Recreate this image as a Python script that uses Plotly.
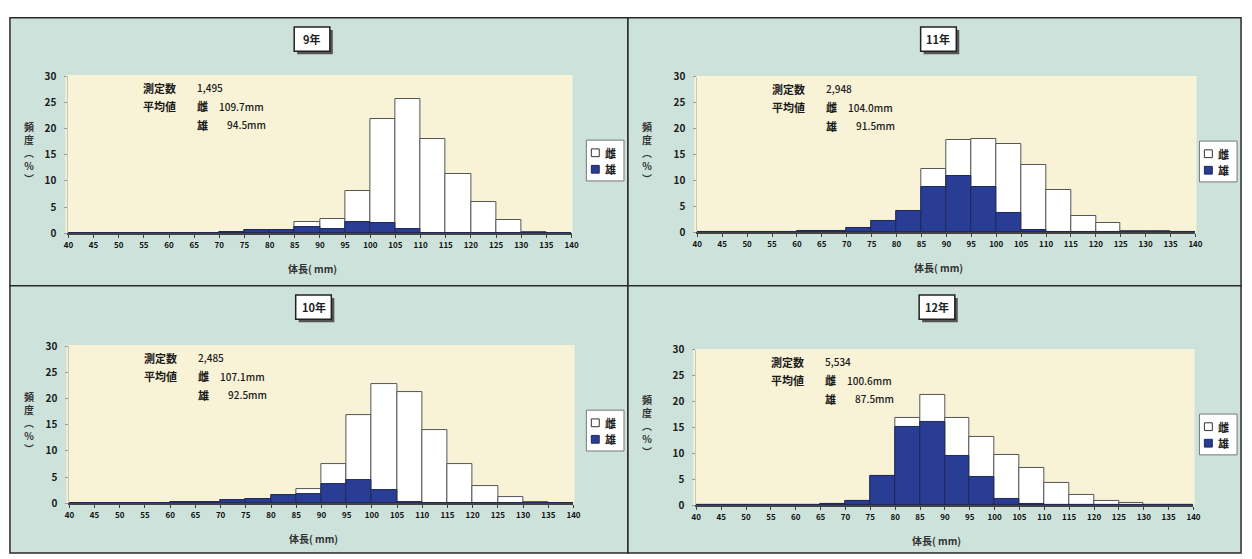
import plotly.graph_objects as go

W, H = 1252, 559

# ---------------- data ----------------
bin_left = list(range(40, 140, 5))           # 20 bins of 5 mm
bin_centers = [b + 2.5 for b in bin_left]
x_ticks = list(range(40, 145, 5))
y_ticks = [0, 5, 10, 15, 20, 25, 30]

panel_titles = ["9年", "11年", "10年", "12年"]
sample_counts = ["1,495", "2,948", "2,485", "5,534"]
mean_female = ["109.7mm", "104.0mm", "107.1mm", "100.6mm"]
mean_male = ["94.5mm", "91.5mm", "92.5mm", "87.5mm"]

# total frequency (%) per bin (white bar = 雌 stacked above 雄)
total_9 = [0, 0, 0, 0, 0, 0, 0.3, 0.7, 0.7, 2.1, 2.7, 8.1, 21.8, 25.7, 17.9, 11.4, 5.9, 2.5, 0.3, 0]
male_9 = [0, 0, 0, 0, 0, 0, 0.3, 0.7, 0.7, 1.2, 0.9, 2.2, 1.9, 0.9, 0, 0, 0, 0, 0, 0]

total_11 = [0, 0, 0, 0, 0.2, 0.2, 0.8, 2.2, 4.1, 12.2, 17.9, 18.1, 17.0, 13.1, 8.2, 3.1, 1.8, 0.3, 0.2, 0]
male_11 = [0, 0, 0, 0, 0.2, 0.2, 0.8, 2.2, 4.1, 8.8, 10.8, 8.8, 3.8, 0.5, 0, 0, 0, 0, 0, 0]

total_10 = [0, 0, 0, 0, 0.2, 0.2, 0.6, 0.8, 1.6, 2.7, 7.5, 16.8, 22.8, 21.3, 14.0, 7.6, 3.3, 1.2, 0.3, 0]
male_10 = [0, 0, 0, 0, 0.2, 0.2, 0.6, 0.8, 1.6, 1.8, 3.7, 4.5, 2.6, 0.3, 0, 0, 0, 0, 0, 0]

total_12 = [0, 0, 0, 0, 0, 0.3, 0.8, 5.7, 16.8, 21.3, 16.8, 13.3, 9.8, 7.3, 4.3, 2.0, 0.9, 0.4, 0.1, 0.1]
male_12 = [0, 0, 0, 0, 0, 0.3, 0.8, 5.7, 15.2, 16.1, 9.6, 5.4, 1.3, 0.2, 0, 0, 0, 0, 0, 0]

totals = [total_9, total_11, total_10, total_12]
males = [male_9, male_11, male_10, male_12]

legend_labels = ["雌", "雄"]
y_title = "頻<br>度<br>︵<br>%<br>︶"
x_title = "体長( mm)"
count_label = "測定数"
mean_label = "平均値"

# ---------------- styling / geometry ----------------
FONT = "Noto Sans CJK JP"
TEAL = "#cce2da"
CREAM = "#f8f2d7"
BLUE = "#2a3d95"
DARK = "#2a2a2a"

# plot-area pixel geometry per panel: x of 40, x of 140, y of 0, y of 30
geo = [
    dict(x0=64, x1=572, y0=231, y1=69, panel=(5, 9, 629, 285)),
    dict(x0=699, x1=1202, y0=230, y1=70, panel=(629, 9, 1248, 285)),
    dict(x0=65, x1=574, y0=509, y1=347, panel=(5, 285, 629, 560)),
    dict(x0=698, x1=1200, y0=511, y1=351, panel=(629, 285, 1248, 560)),
]


def fx(px):
    return px / W


def fy(py):
    return 1 - py / H


fig = go.Figure()
shapes = []
annotations = []

for i, g in enumerate(geo):
    xa = "x" if i == 0 else f"x{i+1}"
    ya = "y" if i == 0 else f"y{i+1}"
    # white (total) bars
    fig.add_trace(go.Bar(
        x=bin_centers, y=totals[i], width=5, xaxis=xa, yaxis=ya,
        marker=dict(color="white", line=dict(color="#555555", width=1)),
        showlegend=False, hoverinfo="skip"))
    # blue (male) bars
    fig.add_trace(go.Bar(
        x=bin_centers, y=males[i], width=5, xaxis=xa, yaxis=ya,
        marker=dict(color=BLUE, line=dict(color="#1e2a5a", width=1)),
        showlegend=False, hoverinfo="skip"))

    axis_x = dict(
        domain=[fx(g["x0"]), fx(g["x1"])], range=[40, 140], anchor=ya,
        tickmode="array", tickvals=x_ticks, ticktext=[str(t) for t in x_ticks],
        showgrid=False, zeroline=False, showline=True, linecolor="#444444", linewidth=1.5,
        ticks="outside", ticklen=3, tickcolor="#444444",
        tickfont=dict(family=FONT, size=8, color="#111111", weight="bold"),
    )
    axis_y = dict(
        domain=[fy(g["y0"]), fy(g["y1"])], range=[0, 30], anchor=xa,
        tickmode="array", tickvals=y_ticks, ticktext=[str(t) for t in y_ticks],
        showgrid=False, zeroline=False, showline=True, linecolor="#c8c8b8", linewidth=1,
        ticks="outside", ticklen=3, tickcolor="#999999", ticklabelstandoff=6,
        tickfont=dict(family=FONT, size=10, color="#1a1a1a", weight="bold"),
    )
    fig.update_layout({("xaxis" if i == 0 else f"xaxis{i+1}"): axis_x,
                       ("yaxis" if i == 0 else f"yaxis{i+1}"): axis_y})

    # panel background + border
    px0, py0, px1, py1 = g["panel"]
    shapes.append(dict(type="rect", xref="paper", yref="paper", layer="below",
                       x0=fx(px0), x1=fx(px1), y0=fy(py1), y1=fy(py0),
                       fillcolor=TEAL, line=dict(color=DARK, width=1.5)))
    # cream plot area
    shapes.append(dict(type="rect", xref="paper", yref="paper", layer="below",
                       x0=fx(g["x0"] - 3), x1=fx(g["x1"] + 1), y0=fy(g["y0"]), y1=fy(g["y1"] - 1),
                       fillcolor=CREAM, line=dict(width=0)))

    # title box with shadow
    cx = (g["x0"] + g["x1"]) / 2 - 8
    ty = py0 + 22
    bw, bh = 36, 25
    shapes.append(dict(type="rect", xref="paper", yref="paper", layer="above",
                       x0=fx(cx - bw / 2 + 3), x1=fx(cx + bw / 2 + 3), y0=fy(ty + bh / 2 + 3), y1=fy(ty - bh / 2 + 3),
                       fillcolor="#555555", line=dict(width=0)))
    shapes.append(dict(type="rect", xref="paper", yref="paper", layer="above",
                       x0=fx(cx - bw / 2), x1=fx(cx + bw / 2), y0=fy(ty + bh / 2), y1=fy(ty - bh / 2),
                       fillcolor="white", line=dict(color="#222222", width=1.5)))
    annotations.append(dict(xref="paper", yref="paper", x=fx(cx), y=fy(ty), text=panel_titles[i],
                            showarrow=False, xanchor="center", yanchor="middle",
                            font=dict(family=FONT, size=11, color="#222222", weight="bold")))

    # legend box
    lx0 = px1 - 42
    ly0 = g["y1"] + 66
    shapes.append(dict(type="rect", xref="paper", yref="paper", layer="above",
                       x0=fx(lx0), x1=fx(lx0 + 38), y0=fy(ly0 + 42), y1=fy(ly0),
                       fillcolor="white", line=dict(color="#777777", width=1)))
    for k, (fc, lc) in enumerate([("white", "#333333"), (BLUE, "#1e2a5a")]):
        ry = ly0 + 13 + k * 17
        shapes.append(dict(type="rect", xref="paper", yref="paper", layer="above",
                           x0=fx(lx0 + 5), x1=fx(lx0 + 13), y0=fy(ry + 4), y1=fy(ry - 4),
                           fillcolor=fc, line=dict(color=lc, width=1)))
        annotations.append(dict(xref="paper", yref="paper", x=fx(lx0 + 17), y=fy(ry), text=legend_labels[k],
                                showarrow=False, xanchor="left", yanchor="middle",
                                font=dict(family=FONT, size=11, color="#222222", weight="bold")))

    # statistics text
    tx = g["x0"] + 73
    vx = g["x0"] + 128
    r1 = g["y1"] + 12
    stat_font = dict(family=FONT, size=11, color="#1a1a1a", weight="bold")
    val_font = dict(family=FONT, size=10, color="#1a1a1a", weight=500)
    for txt, xx, yy, fnt in [
        (count_label, tx, r1, stat_font),
        (sample_counts[i], vx, r1, val_font),
        (mean_label, tx, r1 + 19, stat_font),
        (legend_labels[0], vx, r1 + 19, stat_font),
        (mean_female[i], vx + 22, r1 + 19, val_font),
        (legend_labels[1], vx, r1 + 38, stat_font),
        (mean_male[i], vx + 30, r1 + 38, val_font),
    ]:
        annotations.append(dict(xref="paper", yref="paper", x=fx(xx), y=fy(yy), text=txt,
                                showarrow=False, xanchor="left", yanchor="middle", font=fnt))

    # axis titles
    annotations.append(dict(xref="paper", yref="paper", x=fx(px0 + 19), y=fy((g["y0"] + g["y1"]) / 2 - 2),
                            text=y_title, showarrow=False, xanchor="center", yanchor="middle",
                            font=dict(family=FONT, size=10, color="#333333", weight="bold")))
    annotations.append(dict(xref="paper", yref="paper", x=fx((g["x0"] + g["x1"]) / 2 - 8), y=fy(g["y0"] + 36),
                            text=x_title, showarrow=False, xanchor="center", yanchor="middle",
                            font=dict(family=FONT, size=10, color="#333333", weight="bold")))

fig.update_layout(
    width=W, height=H, margin=dict(l=0, r=0, t=0, b=0),
    paper_bgcolor="white", plot_bgcolor="rgba(0,0,0,0)",
    barmode="overlay", bargap=0, showlegend=False,
    shapes=shapes, annotations=annotations,
    font=dict(family=FONT),
)

fig.write_html("out.html")
